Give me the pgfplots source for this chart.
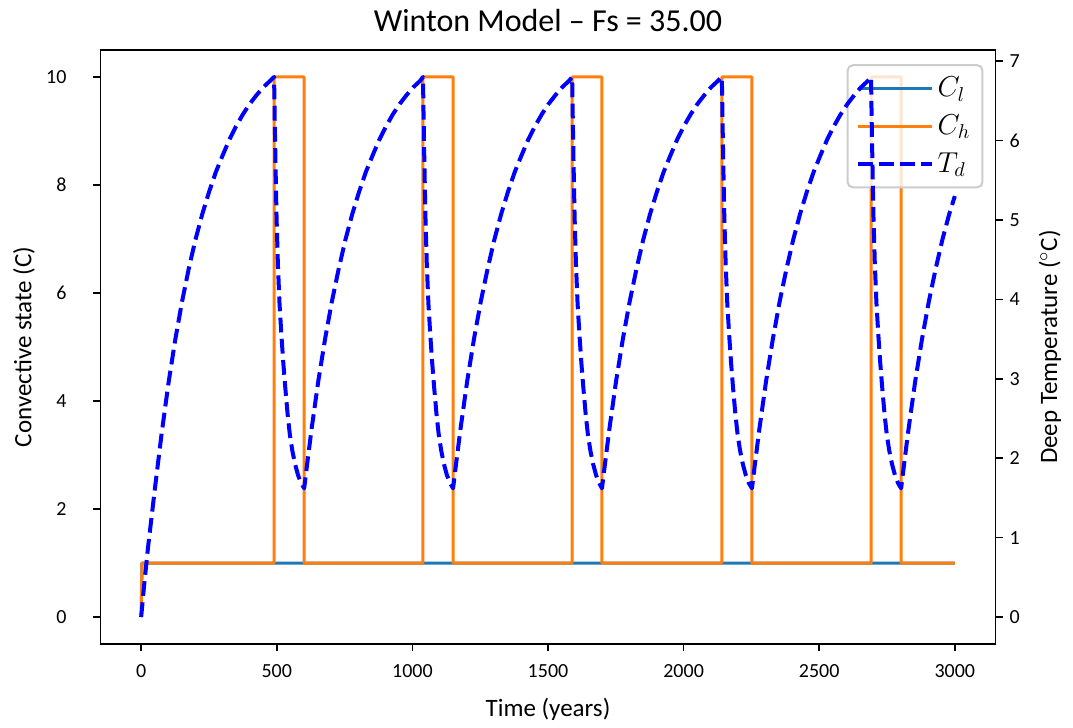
\documentclass[border=0pt]{standalone}
\usepackage{pgfplots}
\pgfplotsset{compat=1.18}
\usepackage{fontspec}
\setmainfont{Carlito}
\definecolor{tabblue}{RGB}{31,119,180}
\definecolor{taborange}{RGB}{255,127,14}
\definecolor{tdblue}{RGB}{0,0,255}

\pgfplotsset{
  common/.style={
    scale only axis, width=447.5pt, height=297pt,
    xmin=-150, xmax=3150,
    tick align=outside, major tick length=3.5pt,
    every tick/.style={black, line width=0.8pt},
    axis line style={line width=0.8pt},
    tick label style={font=\fontsize{10}{12}\selectfont},
    /pgf/number format/assume math mode=true,
    /pgf/number format/1000 sep={},
    clip=false,
  },
  tdstyle/.style={tdblue, line width=2pt, dash pattern=on 7.4pt off 3.2pt, line join=round},
}

\begin{document}
\begin{tikzpicture}
\begin{axis}[common, name=main,
  ymin=-0.5, ymax=10.5, ytick={0,2,...,10},
  xtick={0,500,...,3000},
  xtick pos=bottom, ytick pos=left,
  xticklabel style={yshift=-3pt},
  yticklabel style={xshift=-10pt},
  every axis title/.style={at={(0.5,1)}, anchor=base, yshift=9pt, font=\fontsize{16}{19}\selectfont},
  title={Winton Model – Fs = 35.00},
  every axis x label/.style={at={(0.5,0)}, anchor=base, yshift=-36pt, font=\fontsize{12.5}{15}\selectfont},
  xlabel={Time (years)},
  every axis y label/.style={at={(0,0.5)}, xshift=-38.25pt, rotate=90, anchor=center, font=\fontsize{12.5}{15}\selectfont},
  ylabel={Convective state (C)},
  legend style={at={(0.9865,0.976)}, anchor=north east, draw=black!20, line width=1pt,
    fill=white, fill opacity=0.8, text opacity=1, rounded corners=2.5pt,
    font=\fontsize{14}{16}\selectfont, row sep=3.5pt, inner xsep=4pt, inner ysep=4pt},
  legend cell align=left,
  legend image code/.code={\draw[#1] (0pt,0pt) -- (28.5pt,0pt); \path (0pt,0pt) -- (37pt,0pt);},
]
\addplot[tabblue, line width=1.5pt, line join=round] coordinates {(0,0) (3,1) (3000,1)};
\addlegendentry{$C_l$}
\addplot[taborange, line width=1.5pt, line join=round] coordinates {
(0,0) (3,1) (490,1) (490,10) (601,10) (601,1) (1039,1) (1039,10) (1150,10) (1150,1)
(1589,1) (1589,10) (1699,10) (1699,1) (2141,1) (2141,10) (2252,10) (2252,1)
(2691,1) (2691,10) (2802,10) (2802,1) (3000,1)};
\addlegendentry{$C_h$}
\addlegendimage{tdstyle}
\addlegendentry{$T_d$}
\end{axis}

\begin{axis}[common,
  axis y line*=right, axis x line=none,
  ymin=-0.34, ymax=7.14, ytick={0,1,...,7},
  every axis y label/.style={at={(1,0.5)}, xshift=27.25pt, rotate=90, anchor=center, font=\fontsize{12.5}{15}\selectfont},
  ylabel={Deep Temperature ($^\circ$C)},
]
\addplot[tdstyle] coordinates {
(0,0) (10,0.37) (25,0.87) (50,1.60) (75,2.30) (100,2.93) (125,3.48) (150,3.96) (175,4.38)
(200,4.75) (225,5.07) (250,5.35) (275,5.60) (300,5.81) (325,6.01) (350,6.18) (375,6.33)
(400,6.46) (425,6.57) (450,6.67) (475,6.75) (490,6.80)
(492,6.35) (495,5.75) (499,5.05) (504,4.45) (510,3.95) (517,3.55) (524,3.20) (531,2.90)
(540,2.55) (548,2.30) (557,2.10) (567,1.93) (578,1.79) (589,1.69) (601,1.62)
(611,1.90) (628,2.36) (653,2.97) (678,3.50) (703,3.97) (728,4.38) (753,4.75) (778,5.07)
(803,5.35) (828,5.60) (853,5.81) (878,6.01) (903,6.18) (928,6.33) (953,6.46) (978,6.57)
(1003,6.67) (1028,6.75) (1039,6.80)
(1041,6.35) (1044,5.75) (1048,5.05) (1053,4.45) (1059,3.95) (1066,3.55) (1073,3.20) (1080,2.90)
(1089,2.55) (1097,2.30) (1106,2.10) (1116,1.93) (1127,1.79) (1138,1.69) (1150,1.62)
(1160,1.90) (1177,2.36) (1202,2.97) (1227,3.50) (1252,3.97) (1277,4.38) (1302,4.75) (1327,5.07)
(1352,5.35) (1377,5.60) (1402,5.81) (1427,6.01) (1452,6.18) (1477,6.33) (1502,6.46) (1527,6.57)
(1552,6.67) (1577,6.75) (1589,6.80)
(1591,6.35) (1594,5.75) (1598,5.05) (1603,4.45) (1609,3.95) (1616,3.55) (1623,3.20) (1630,2.90)
(1639,2.55) (1647,2.30) (1656,2.10) (1666,1.93) (1677,1.79) (1688,1.69) (1699,1.62)
(1709,1.90) (1726,2.36) (1751,2.97) (1776,3.50) (1801,3.97) (1826,4.38) (1851,4.75) (1876,5.07)
(1901,5.35) (1926,5.60) (1951,5.81) (1976,6.01) (2001,6.18) (2026,6.33) (2051,6.46) (2076,6.57)
(2101,6.67) (2126,6.75) (2141,6.80)
(2143,6.35) (2146,5.75) (2150,5.05) (2155,4.45) (2161,3.95) (2168,3.55) (2175,3.20) (2182,2.90)
(2191,2.55) (2199,2.30) (2208,2.10) (2218,1.93) (2229,1.79) (2240,1.69) (2252,1.62)
(2262,1.90) (2279,2.36) (2304,2.97) (2329,3.50) (2354,3.97) (2379,4.38) (2404,4.75) (2429,5.07)
(2454,5.35) (2479,5.60) (2504,5.81) (2529,6.01) (2554,6.18) (2579,6.33) (2604,6.46) (2629,6.57)
(2654,6.67) (2679,6.75) (2691,6.80)
(2693,6.35) (2696,5.75) (2700,5.05) (2705,4.45) (2711,3.95) (2718,3.55) (2725,3.20) (2732,2.90)
(2741,2.55) (2749,2.30) (2758,2.10) (2768,1.93) (2779,1.79) (2790,1.69) (2802,1.62)
(2812,1.90) (2829,2.36) (2854,2.97) (2879,3.50) (2904,3.97) (2929,4.38) (2954,4.75) (2979,5.07)
(3000,5.30)};
\end{axis}

\pgfresetboundingbox
\path[use as bounding box] ([xshift=-50.25pt,yshift=-41.5pt]main.south west) rectangle ([xshift=38.75pt,yshift=25pt]main.north east);
\end{tikzpicture}
\end{document}
